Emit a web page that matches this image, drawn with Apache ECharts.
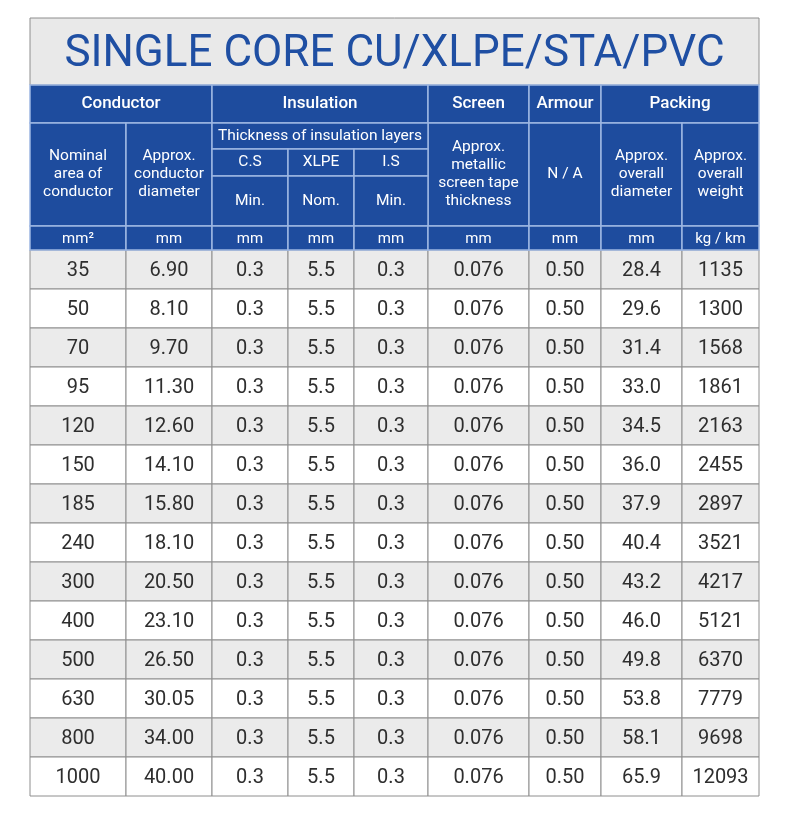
<!DOCTYPE html>
<html><head><meta charset="utf-8">
<script src="https://cdn.jsdelivr.net/npm/echarts@6/dist/echarts.min.js"></script>
<style>html,body{margin:0;padding:0;background:#fff}#c{width:790px;height:820px}</style>
</head><body><div id="c"></div>
<script>
// ---- content ----
const titleText = 'SINGLE CORE CU/XLPE/STA/PVC';
const groupHeaders = ['Conductor', 'Insulation', 'Screen', 'Armour', 'Packing'];
const subHeaders = ['Nominal\narea of\nconductor', 'Approx.\nconductor\ndiameter', 'Approx.\nmetallic\nscreen tape\nthickness', 'N / A', 'Approx.\noverall\ndiameter', 'Approx.\noverall\nweight'];
const insulationTitle = 'Thickness of insulation layers';
const layerNames = ['C.S', 'XLPE', 'I.S'];
const layerKinds = ['Min.', 'Nom.', 'Min.'];
const units = ['mm²', 'mm', 'mm', 'mm', 'mm', 'mm', 'mm', 'mm', 'kg / km'];

const nominalArea = [35, 50, 70, 95, 120, 150, 185, 240, 300, 400, 500, 630, 800, 1000];
const conductorDiameter = [6.90, 8.10, 9.70, 11.30, 12.60, 14.10, 15.80, 18.10, 20.50, 23.10, 26.50, 30.05, 34.00, 40.00];
const csMin = [0.3, 0.3, 0.3, 0.3, 0.3, 0.3, 0.3, 0.3, 0.3, 0.3, 0.3, 0.3, 0.3, 0.3];
const xlpeNom = [5.5, 5.5, 5.5, 5.5, 5.5, 5.5, 5.5, 5.5, 5.5, 5.5, 5.5, 5.5, 5.5, 5.5];
const isMin = [0.3, 0.3, 0.3, 0.3, 0.3, 0.3, 0.3, 0.3, 0.3, 0.3, 0.3, 0.3, 0.3, 0.3];
const screenThickness = [0.076, 0.076, 0.076, 0.076, 0.076, 0.076, 0.076, 0.076, 0.076, 0.076, 0.076, 0.076, 0.076, 0.076];
const armourThickness = [0.50, 0.50, 0.50, 0.50, 0.50, 0.50, 0.50, 0.50, 0.50, 0.50, 0.50, 0.50, 0.50, 0.50];
const overallDiameter = [28.4, 29.6, 31.4, 33.0, 34.5, 36.0, 37.9, 40.4, 43.2, 46.0, 49.8, 53.8, 58.1, 65.9];
const overallWeight = [1135, 1300, 1568, 1861, 2163, 2455, 2897, 3521, 4217, 5121, 6370, 7779, 9698, 12093];

// ---- layout (table units) ----
const columns = [nominalArea, conductorDiameter, csMin, xlpeNom, isMin, screenThickness, armourThickness, overallDiameter, overallWeight];
const decimals = [0, 2, 1, 1, 1, 3, 2, 1, 0];
const colEdges = [0, 96, 182, 258, 324, 398, 499, 571, 652, 729];
const bandEdges = [0, 67, 105, 131, 158, 208, 232];
const rowH = 39;
const totalH = bandEdges[6] + rowH * nominalArea.length;

const BLUE = '#1e4c9e', HLINE = '#9db6e2', GRID = '#8e8e8e', ALT = '#ebebeb', TXT = '#2e2e2e';
const FONT = 'Roboto, "Noto Sans", sans-serif';

// header cells: [c0, c1, b0, b1, text, style]
const headerCells = [];
headerCells.push([0, 9, 0, 1, titleText, 'title']);
const groupSpans = [[0, 2], [2, 5], [5, 6], [6, 7], [7, 9]];
groupHeaders.forEach((t, i) => headerCells.push([groupSpans[i][0], groupSpans[i][1], 1, 2, t, 'group']));
const subCols = [0, 1, 5, 6, 7, 8];
subHeaders.forEach((t, i) => headerCells.push([subCols[i], subCols[i] + 1, 2, 5, t, 'sub']));
headerCells.push([2, 5, 2, 3, insulationTitle, 'sub']);
layerNames.forEach((t, i) => headerCells.push([2 + i, 3 + i, 3, 4, t, 'sub']));
layerKinds.forEach((t, i) => headerCells.push([2 + i, 3 + i, 4, 5, t, 'sub']));
units.forEach((t, i) => headerCells.push([i, i + 1, 5, 6, t, 'unit']));

const headerData = headerCells.map(h => [colEdges[h[0]], colEdges[h[1]], bandEdges[h[2]], bandEdges[h[3]], h[4], h[5]]);

const bodyData = [];
nominalArea.forEach((_, r) => {
  columns.forEach((arr, c) => {
    const y0 = bandEdges[6] + r * rowH;
    bodyData.push([colEdges[c], colEdges[c + 1], y0, y0 + rowH, arr[r].toFixed(decimals[c]), r]);
  });
});

const styles = {
  title: {fill: '#e9e9e9', stroke: GRID, lw: 1, color: '#1f4fa3', size: 44, weight: 400, lh: 50, dy: 3},
  group: {fill: BLUE, stroke: HLINE, lw: 1.5, color: '#fff', size: 17, weight: 500, lh: 20, dy: 0},
  sub: {fill: BLUE, stroke: HLINE, lw: 1.5, color: '#fff', size: 15.5, weight: 400, lh: 18, dy: 0},
  unit: {fill: BLUE, stroke: HLINE, lw: 1.5, color: '#fff', size: 15, weight: 400, lh: 18, dy: 1}
};

function drawCell(api, s) {
  const p0 = api.coord([api.value(0), api.value(2)]);
  const p1 = api.coord([api.value(1), api.value(3)]);
  const x = Math.min(p0[0], p1[0]), y = Math.min(p0[1], p1[1]);
  const w = Math.abs(p1[0] - p0[0]), h = Math.abs(p1[1] - p0[1]);
  return {
    type: 'group',
    children: [
      {type: 'rect', shape: {x: x, y: y, width: w, height: h}, style: {fill: s.fill, stroke: s.stroke, lineWidth: s.lw}},
      {type: 'text', x: x + w / 2, y: y + h / 2 + (s.dy || 0), style: {text: s.text, fill: s.color, font: s.weight + ' ' + s.size + 'px ' + FONT, lineHeight: s.lh, align: 'center', verticalAlign: 'middle'}}
    ]
  };
}

const chart = echarts.init(document.getElementById('c'), null, {renderer: 'canvas'});
chart.setOption({
  animation: false,
  grid: {left: 30, top: 18, width: 729, height: totalH},
  xAxis: {type: 'value', min: 0, max: colEdges[9], show: false},
  yAxis: {type: 'value', min: 0, max: totalH, inverse: true, show: false},
  series: [
    {
      type: 'custom', coordinateSystem: 'cartesian2d', clip: false,
      encode: {x: [0, 1], y: [2, 3]},
      data: bodyData,
      renderItem: (params, api) => {
        const d = bodyData[params.dataIndex];
        return drawCell(api, {
          fill: d[5] % 2 === 0 ? ALT : '#ffffff', stroke: GRID, lw: 1,
          color: TXT, size: 20, weight: 400, lh: 22, dy: 1, text: d[4]
        });
      }
    },
    {
      type: 'custom', coordinateSystem: 'cartesian2d', clip: false,
      encode: {x: [0, 1], y: [2, 3]},
      data: headerData,
      renderItem: (params, api) => {
        const d = headerData[params.dataIndex];
        return drawCell(api, Object.assign({text: d[4]}, styles[d[5]]));
      }
    }
  ]
});
</script></body></html>
